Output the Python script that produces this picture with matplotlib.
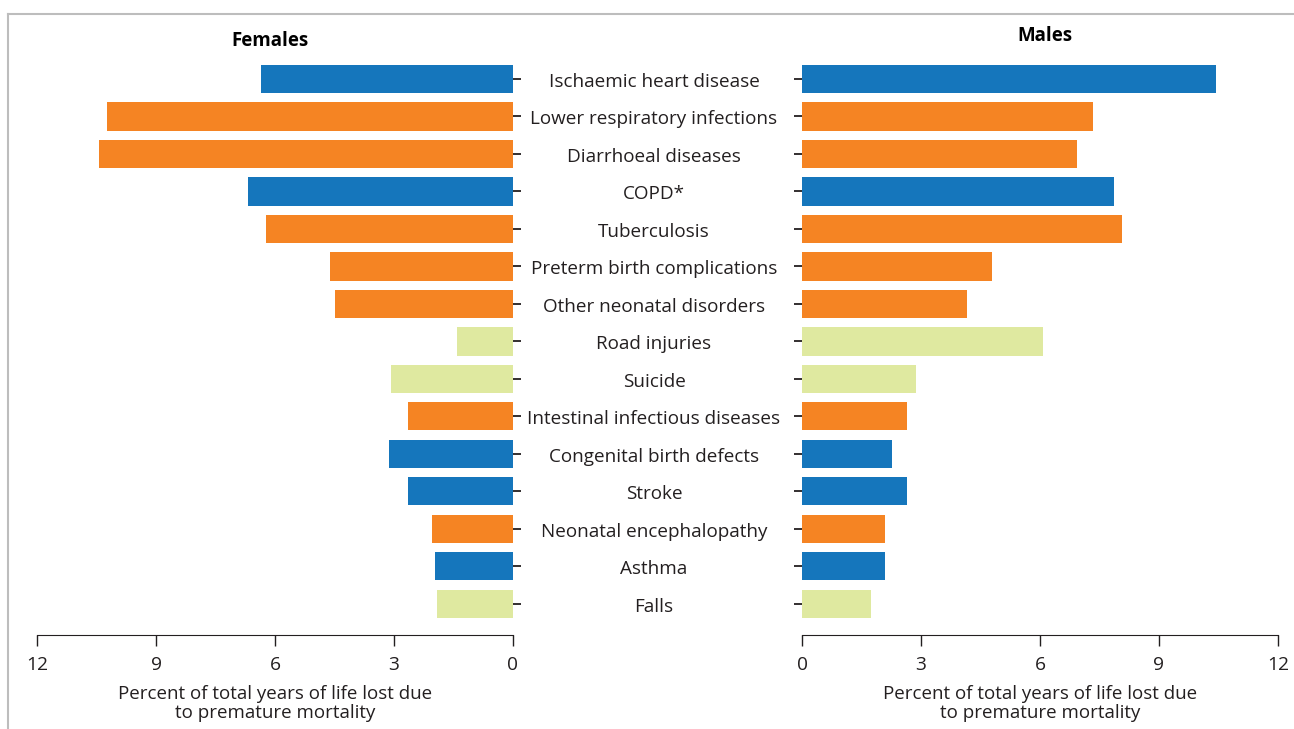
import matplotlib.pyplot as plt
from matplotlib.lines import Line2D
from matplotlib.transforms import blended_transform_factory

plt.rcParams['font.family'] = ['Open Sans', 'DejaVu Sans']

causes = ['Ischaemic heart disease', 'Lower respiratory infections', 'Diarrhoeal diseases',
          'COPD*', 'Tuberculosis', 'Preterm birth complications', 'Other neonatal disorders',
          'Road injuries', 'Suicide', 'Intestinal infectious diseases', 'Congenital birth defects',
          'Stroke', 'Neonatal encephalopathy', 'Asthma', 'Falls']
# group: n = non-communicable, c = communicable/neonatal, i = injuries
groups = ['n', 'c', 'c', 'n', 'c', 'c', 'c', 'i', 'i', 'c', 'n', 'n', 'c', 'n', 'i']
females = [6.35, 10.23, 10.44, 6.68, 6.23, 4.61, 4.49, 1.41, 3.08, 2.65, 3.13, 2.65, 2.04, 1.97, 1.92]
males = [10.44, 7.34, 6.93, 7.87, 8.07, 4.79, 4.16, 6.08, 2.87, 2.65, 2.27, 2.65, 2.09, 2.09, 1.74]

palette = {'n': '#1576bc', 'c': '#f58423', 'i': '#dfe9a0'}
colors = [palette[g] for g in groups]
pos = list(range(len(causes)))

fig = plt.figure(figsize=(12.94, 7.29), dpi=100)
axL = fig.add_axes([37/1294, 1-635/729, 476/1294, 575/729])
axR = fig.add_axes([802/1294, 1-635/729, 476/1294, 575/729])

axL.barh(pos, females, height=0.75, color=colors)
axR.barh(pos, males, height=0.75, color=colors)

for ax in (axL, axR):
    ax.set_ylim(14.83, -0.507)
    ax.set_xlim(0, 12)
    ax.set_xticks([0, 3, 6, 9, 12])
    ax.set_yticks(pos)
    ax.set_yticklabels([])
    for s in ['top', 'left', 'right']:
        ax.spines[s].set_visible(False)
    ax.spines['bottom'].set_color('#231f20')
    ax.tick_params(axis='x', direction='out', length=8, width=1, color='#231f20',
                   labelsize=13.8, pad=7, labelcolor='#231f20')
    ax.tick_params(axis='y', length=6, width=1.3, color='#231f20')
    ax.set_xlabel('Percent of total years of life lost due\nto premature mortality',
                  fontsize=13.5, color='#231f20', labelpad=8, linespacing=1.08)

axL.invert_xaxis()
axL.yaxis.tick_right()
axR.yaxis.tick_left()

axL.set_title('Females', fontsize=13.5, fontweight='bold', x=0.49, pad=10)
axR.set_title('Males', fontsize=13.5, fontweight='bold', x=0.51, pad=14)

tr = blended_transform_factory(fig.transFigure, axL.transData)
for i, c in enumerate(causes):
    axL.text(654/1294, i + 0.07, c, transform=tr, ha='center', va='center',
             fontsize=13.6, color='#231f20')

# thin frame at top and left
fig.add_artist(Line2D([8/1294, 8/1294], [0, 1-14/729], transform=fig.transFigure,
                      color='#bdbdbd', lw=1.5))
fig.add_artist(Line2D([8/1294, 1], [1-14/729, 1-14/729], transform=fig.transFigure,
                      color='#bdbdbd', lw=1.5))

fig.savefig('out.png', dpi=100)
